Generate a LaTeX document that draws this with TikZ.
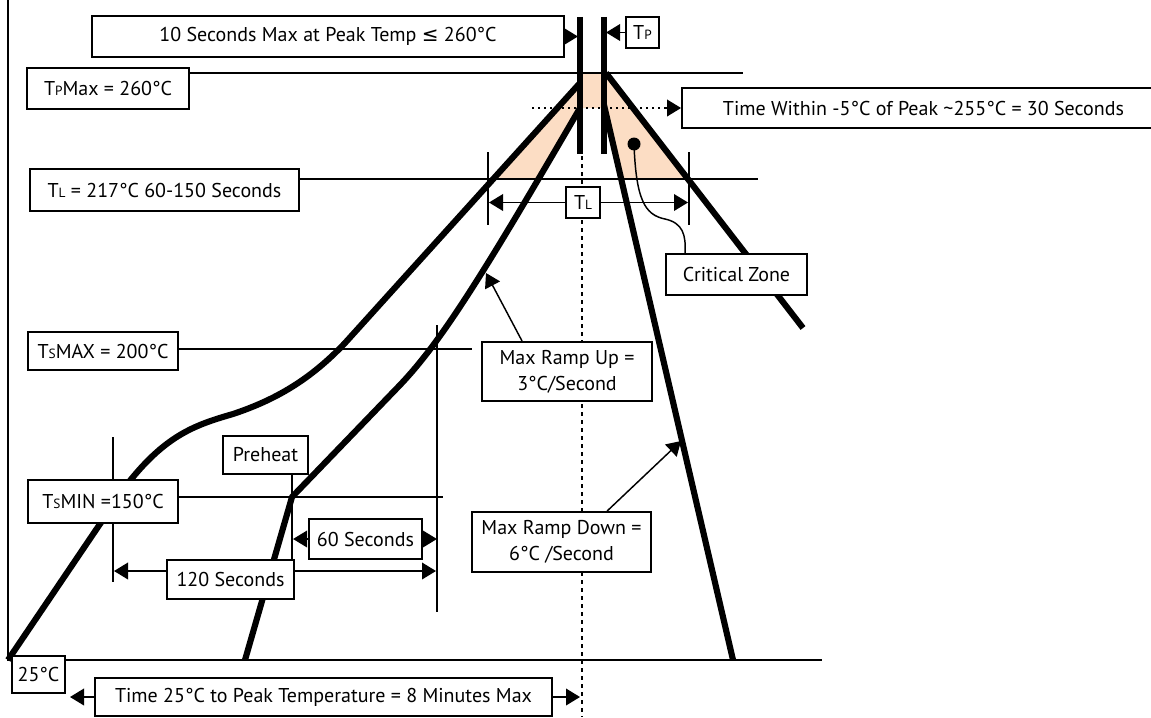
\documentclass[tikz,border=0pt]{standalone}
\usepackage{fontspec}
\setmainfont{PT Sans}
\newfontfamily\symf{DejaVu Sans}
\usetikzlibrary{arrows.meta,calc}
\definecolor{peach}{RGB}{252,221,196}
\newcommand\lowsub[1]{{\fontsize{10}{10}\selectfont #1}}
\begin{document}
\begin{tikzpicture}[x=0.75pt,y=-0.75pt,
  box/.style={draw,line width=1.4pt,fill=white,inner sep=0pt,font=\fontsize{15}{19.5}\selectfont,align=center},
  sz/.style 2 args={minimum width=#1*0.75pt,minimum height=#2*0.75pt},
  lvl/.style={line width=1.4pt},
  prof/.style={line width=4.6pt},
  bar/.style={line width=4.6pt},
  arr/.style={line width=1.1pt,-{Triangle[length=10.5pt,width=12.5pt]}},
  thin/.style={line width=1.1pt},
]
\useasboundingbox (0,0) rectangle (1151,717);

% shaded critical zone
\fill[peach] (490,179) -- (578,85) -- (578,73) -- (605,73) -- (607,77) -- (686,179)
  -- (620,179) -- (605,112) -- (605,108) -- (578,108) -- (578,112) -- (541,179) -- cycle;

% axes and level lines
\draw[lvl] (8,0) -- (8,660) -- (822,660);
\draw[lvl] (189,73) -- (743,73);
\draw[lvl] (299,179) -- (758,179);
\draw[lvl] (178,349) -- (472,349);
\draw[lvl] (178,497) -- (443,497);

% vertical markers
\draw[lvl] (488,152) -- (488,225);
\draw[lvl] (689,152) -- (689,225);
\draw[lvl] (437,325) -- (437,612);
\draw[lvl] (113,437) -- (113,582);
\draw[lvl] (292,474) -- (292,560);

% centre dashed line
\draw[thin,dash pattern=on 3pt off 3pt] (582,156) -- (582,717);
% dotted line
\draw[thin,dash pattern=on 1.5pt off 3pt] (532,108) -- (668,108);

% profiles
\draw[prof] (8,660) -- (125,487) .. controls (165,435) and (195,425) .. (233,414)
  .. controls (275,400) and (310,380) .. (345,343) -- (580,83);
\draw[prof,line join=round] (245,660) -- (292,497) -- (400,385) .. controls (440,343) and (480,280) .. (580,108);
\draw[prof] (604,105) -- (733,660);
\draw[prof] (606,73) -- (803,328);

% bars
\draw[bar] (580,17) -- (580,154);
\draw[bar] (604,17) -- (604,154);

% boxes
\node[box,sz={472}{41}] (sec10) at (328,36.5) {10 Seconds Max at Peak Temp {\symf ≤} 260°C};
\node[box,sz={33}{31}] (tp) at (642.5,32.5) {T\lowsub{P}};
\node[box,sz={162}{41}] (tpmax) at (108,88.5) {T\lowsub{P}Max = 260°C};
\node[box,sz={483}{40}] (within) at (923.5,108) {Time Within -5°C of Peak \textasciitilde255°C = 30 Seconds};
\node[box,sz={269}{42}] (tl) at (164.5,190) {T\lowsub{L} = 217°C 60-150 Seconds};
\node[box,sz={34}{31}] (tls) at (583,202.5) {T\lowsub{L}};
\node[box,sz={141}{41}] (crit) at (736.5,274.5) {Critical Zone};
\node[box,sz={170}{59}] (rampup) at (567,371.5) {Max Ramp Up =\\3°C/Second};
\node[box,sz={150}{38}] (tsmax) at (103,351) {T\lowsub{S}MAX = 200°C};
\node[box,sz={85}{38}] (preheat) at (265.5,455) {Preheat};
\node[box,sz={150}{43}] (tsmin) at (103,501.5) {T\lowsub{S}MIN =150°C};
\node[box,sz={113}{40}] (sec60) at (365.5,539) {60 Seconds};
\node[box,sz={127}{39}] (sec120) at (230.5,579.5) {120 Seconds};
\node[box,sz={179}{60}] (rampdown) at (561.5,542) {Max Ramp Down =\\6°C /Second};
\node[box,sz={53}{37}] (c25) at (38.5,674.5) {25°C};
\node[box,sz={457}{38}] (time8) at (323.5,697) {Time 25°C to Peak Temperature = 8 Minutes Max};

% critical zone marker
\node[circle,fill,inner sep=0pt,minimum size=13*0.75pt] (dot) at (634,144) {};
\draw[thin] (dot.center) .. controls (636,200) and (645,215) .. (665,219)
  .. controls (683,223) and (686,235) .. ($(crit.north west)+(20,0)$);

% arrows
\draw[arr] (sec10.east) -- ++(13,0);
\draw[arr] (tp.west) -- ++(-19,0);
\draw[arr] (664,108) -- (within.west);
\draw[arr] (tls.west) -- (489,202.5);
\draw[arr] (tls.east) -- (688,202.5);
\draw[arr] ($(rampup.north west)+(41,0)$) -- (486,273);
\draw[arr] ($(rampdown.north west)+(136,0)$) -- (681,441);
\draw[arr] (sec60.west) -- ++(-15,0);
\draw[arr] (sec60.east) -- ++(14,0);
\draw[arr] ($(sec120.west)+(0,-8.5)$) -- (114,571);
\draw[arr] ($(sec120.east)+(0,-8.5)$) -- (436,571);
\draw[arr] (time8.west) -- (70,697);
\draw[arr] (time8.east) -- (580,697);
\end{tikzpicture}
\end{document}
